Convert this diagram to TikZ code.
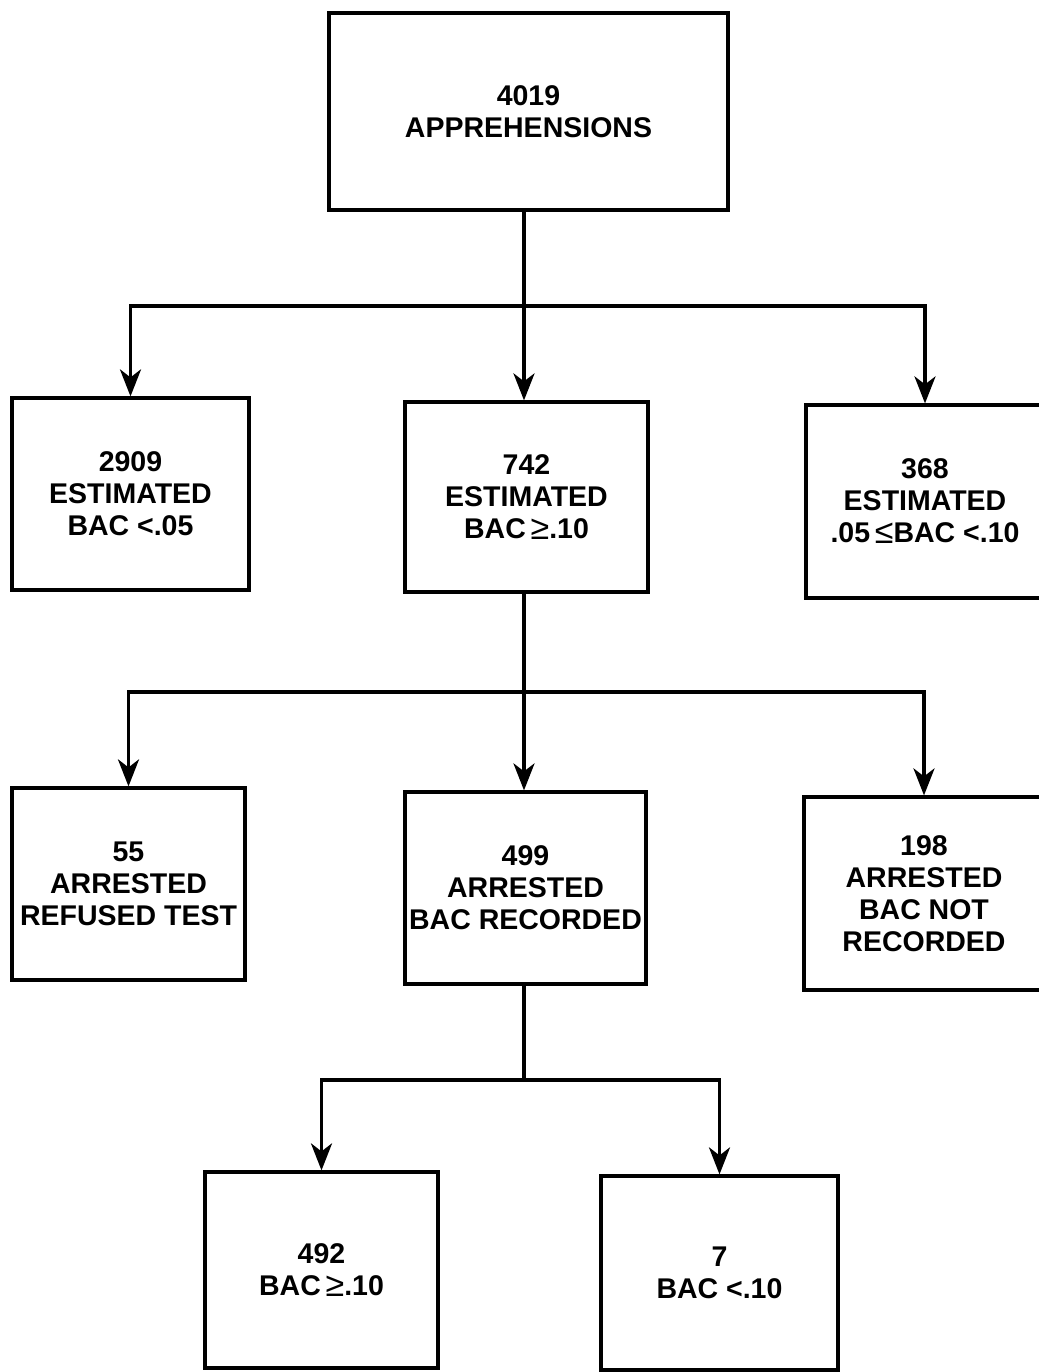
\documentclass[tikz,border=0pt]{standalone}
\usepackage{fontspec}
\setmainfont{Liberation Sans}
\usetikzlibrary{arrows.meta}
\newcommand{\gesym}{\,{\mdseries\fontsize{34}{32}\selectfont\raisebox{-1pt}{≥}}}
\newcommand{\lesym}{{\mdseries\fontsize{34}{32}\selectfont\raisebox{-1pt}{≤}}}
\tikzset{
  box/.style={draw, line width=3.2pt, align=center, inner sep=0pt,
    font=\bfseries\fontsize{28.5}{32}\selectfont},
  conn/.style={line width=3.6pt},
  arr/.style={conn, -{Stealth[length=27pt, width=21pt, inset=8pt]}},
}
\begin{document}
\begin{tikzpicture}[x=1pt,y=-1pt]
\useasboundingbox (0,0) rectangle (1038,1372);
% boxes
\node[box, minimum width=399pt, minimum height=197pt] (top) at (528.5,111.5) {4019\\APPREHENSIONS};
\node[box, minimum width=237pt, minimum height=192pt] (a) at (130.5,494) {2909\\ESTIMATED\\BAC <.05};
\node[box, minimum width=243pt, minimum height=190pt] (b) at (526.5,497) {742\\ESTIMATED\\BAC\gesym.10};
\node[box, minimum width=238pt, minimum height=193pt] (c) at (925,501.5) {368\\ESTIMATED\\.05\,\lesym BAC <.10};
\node[box, minimum width=233pt, minimum height=192pt] (d) at (128.5,884) {55\\ARRESTED\\REFUSED TEST};
\node[box, minimum width=241pt, minimum height=192pt] (e) at (525.5,888) {499\\ARRESTED\\BAC RECORDED};
\node[box, minimum width=240pt, minimum height=193pt] (f) at (924,893.5) {198\\ARRESTED\\BAC NOT\\RECORDED};
\node[box, minimum width=233pt, minimum height=196pt] (g) at (321.5,1270) {492\\BAC\gesym.10};
\node[box, minimum width=237pt, minimum height=194pt] (h) at (719.5,1273) {7\\BAC <.10};
% junctions
\coordinate (j1) at (524,306);
\coordinate (j2) at (524,692);
\coordinate (j3) at (524,1080);
% level 1
\draw[conn] (j1 |- top.south) -- (j1);
\draw[arr] (j1) -| (a.north);
\draw[arr] (j1) -- (j1 |- b.north);
\draw[arr] (j1) -| (c.north);
% level 2
\draw[conn] (j2 |- b.south) -- (j2);
\draw[arr] (j2) -| (d.north);
\draw[arr] (j2) -- (j2 |- e.north);
\draw[arr] (j2) -| (f.north);
% level 3
\draw[conn] (j3 |- e.south) -- (j3);
\draw[arr] (j3) -| (g.north);
\draw[arr] (j3) -| (h.north);
\end{tikzpicture}
\end{document}
